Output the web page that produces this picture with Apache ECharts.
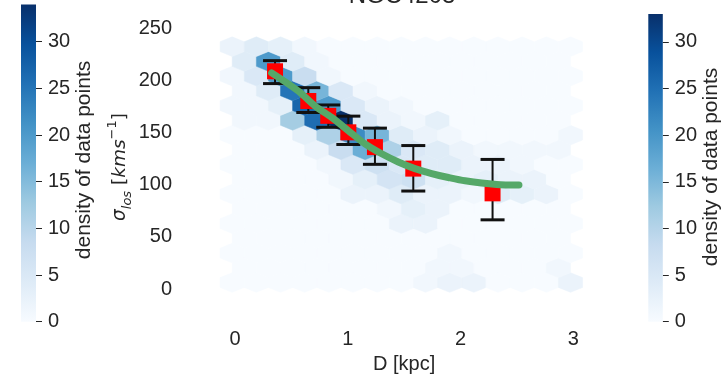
<!DOCTYPE html>
<html>
<head>
<meta charset="utf-8">
<script src="https://cdn.jsdelivr.net/npm/echarts@6/dist/echarts.min.js"></script>
<style>
  html, body { margin: 0; padding: 0; background: #ffffff; }
  #chart { width: 725px; height: 379px; }
</style>
</head>
<body>
<div id="chart"></div>
<script>
// ---- hexbin lattice (matplotlib-style hexbin, gridsize 14 x 8) ----
const HEX_XMIN = -0.025, HEX_XMAX = 2.975, HEX_NX = 14;
const HEX_YMIN = 6.3, HEX_YMAX = 232.4, HEX_NY = 8;

// number of data points per hexagon, bottom row first.
// even rows hold NX+1 cells, odd rows (shifted half a cell) hold NX cells
const hexCounts = [
  [0,0,0,0,0,0,0,0,1,2,2,0,0,0,2],
  [0,0,0,0,0,0,0,0,1,1,0,0,0,1],
  [0,0,0,0,0,0,0,0,0,1,0,0,0,0,0],
  [0,0,0,0,0,0,0,0,0,0,0,0,0,0],
  [0,0,0,0,0,0,0,2,2,0,0,0,0,0,0],
  [0,0,0,0,0,0,1,3,2,0,0,0,0,0],
  [0,0,0,0,0,2,2,4,2,2,1,4,3,2,0],
  [0,0,0,0,1,3,6,7,3,2,3,2,2,0],
  [0,0,0,0,1,5,7,5,4,4,2,2,1,0,0],
  [0,0,0,2,8,17,11,5,4,2,1,1,1,1],
  [0,0,0,3,11,22,16,4,2,1,0,0,0,0,1],
  [1,1,12,26,34,5,2,1,3,0,0,0,0,0],
  [1,1,3,27,20,5,2,1,0,0,0,0,0,0,0],
  [1,4,25,16,5,1,0,0,0,0,0,0,0,0],
  [1,5,20,8,1,0,0,0,0,0,0,0,0,0,0],
  [4,20,4,1,0,0,0,0,0,0,0,0,0,0],
  [2,4,3,1,0,0,0,0,0,0,0,0,0,0,0]
];
const countMax = 34;

// binned profile: distance, dispersion and its error-bar limits
const binD     = [0.355, 0.65, 0.827, 1.005, 1.241, 1.581, 2.284];
const binSigma = [208.8, 180.3, 166.1, 150.3, 136.1, 115.5, 91.8];
const binLow   = [197.0, 169.3, 155.1, 138.6, 119.6, 94.0, 66.4];
const binHigh  = [219.0, 193.1, 176.5, 165.8, 154.3, 137.6, 124.3];

// fitted dispersion profile
const fitD     = [0.325, 0.561, 0.709, 0.857, 1.005, 1.153, 1.301, 1.448, 1.596, 1.744, 1.892, 2.04, 2.32, 2.518];
const fitSigma = [207.3, 189.9, 175.6, 164.6, 151.9, 139.2, 129.7, 121.9, 115.5, 110.8, 107.0, 103.8, 100.3, 99.7];

const xTicks = [0, 1, 2, 3];
const yTicks = [0, 50, 100, 150, 200, 250];
const colorbarTicks = [0, 5, 10, 15, 20, 25, 30];

const BLUES = ['#f7fbff','#deebf7','#c6dbef','#9ecae1','#6baed6','#4292c6','#2171b5','#08519c','#08306b'];
const TEXT = '#262626';
const FONT = 'Liberation Sans, Arial, sans-serif';

// hex centres from the lattice definition
const SX = (HEX_XMAX - HEX_XMIN) / HEX_NX;
const SY = (HEX_YMAX - HEX_YMIN) / HEX_NY;
const hexData = [];
hexCounts.forEach((row, k) => {
  const shift = (k % 2) ? SX / 2 : 0;
  row.forEach((c, i) => {
    hexData.push([HEX_XMIN + shift + i * SX, HEX_YMIN + k * SY / 2, c]);
  });
});
const HEX_SHAPE = [[0.5,-1/6],[0.5,1/6],[0,1/3],[-0.5,1/6],[-0.5,-1/6],[0,-1/3]];

const errData = binD.map((d, i) => [d, binLow[i], binHigh[i]]);
const ptData = binD.map((d, i) => [d, binSigma[i]]);
const fitData = fitD.map((d, i) => [d, fitSigma[i]]);

const blueGradient = () => new echarts.graphic.LinearGradient(0, 1, 0, 0,
  BLUES.map((c, j) => ({ offset: j / (BLUES.length - 1), color: c })));

function colorbarAxis(gridIndex, max) {
  return {
    type: 'value', gridIndex, min: 0, max, position: 'right',
    axisLine: { show: false }, splitLine: { show: false },
    axisTick: { show: true, length: 6, customValues: colorbarTicks, lineStyle: { color: TEXT, width: 1 } },
    axisLabel: { customValues: colorbarTicks, margin: 12, color: TEXT, fontSize: 20, fontFamily: FONT }
  };
}

const chart = echarts.init(document.getElementById('chart'), null, { renderer: 'canvas' });
chart.setOption({
  backgroundColor: '#ffffff',
  animation: false,
  grid: [
    { left: 235, top: 28.3, width: 338.3, height: 263.4 },
    { left: 21, top: 4.4, width: 15, height: 317.3 },
    { left: 648.3, top: 14, width: 14.5, height: 307.7 }
  ],
  xAxis: [
    {
      type: 'value', gridIndex: 0, min: 0, max: 3, interval: 1,
      name: 'D [kpc]', nameLocation: 'middle', nameGap: 64,
      nameTextStyle: { color: TEXT, fontSize: 20, fontFamily: FONT },
      axisLine: { show: false }, axisTick: { show: false }, splitLine: { show: false },
      axisLabel: { color: TEXT, fontSize: 20, fontFamily: FONT, margin: 40 }
    },
    { type: 'category', gridIndex: 1, data: ['c'], show: false },
    { type: 'category', gridIndex: 2, data: ['c'], show: false }
  ],
  yAxis: [
    {
      type: 'value', gridIndex: 0, min: 0, max: 250, interval: 50,
      axisLine: { show: false }, axisTick: { show: false }, splitLine: { show: false },
      axisLabel: { color: TEXT, fontSize: 20, fontFamily: FONT, margin: 63 }
    },
    colorbarAxis(1, 34),
    colorbarAxis(2, 33)
  ],
  visualMap: {
    type: 'continuous', show: false, seriesIndex: 0, dimension: 2,
    min: 0, max: countMax, inRange: { color: BLUES }
  },
  graphic: [
    { type: 'text', x: 402, y: 8, style: { text: 'NGC4203', fill: TEXT, fontSize: 24, fontFamily: FONT, align: 'center', verticalAlign: 'bottom' } },
    { type: 'text', x: 120, y: 167, rotation: Math.PI / 2,
      style: {
        text: '{it|σ}{sub|los}{n| [}{it|kms}{sup|−1}{n|]}',
        align: 'center', verticalAlign: 'middle',
        rich: {
          it: { fontStyle: 'italic', fontSize: 18.5, fontFamily: 'DejaVu Sans', fill: TEXT, lineHeight: 28 },
          n: { fontSize: 18.5, fontFamily: 'DejaVu Sans', fill: TEXT, lineHeight: 28 },
          sub: { fontStyle: 'italic', fontSize: 13, fontFamily: 'DejaVu Sans', fill: TEXT, lineHeight: 28, verticalAlign: 'bottom' },
          sup: { fontSize: 13, fontFamily: 'DejaVu Sans', fill: TEXT, lineHeight: 28, verticalAlign: 'top' }
        }
      } },
    { type: 'text', x: 84, y: 160, rotation: Math.PI / 2,
      style: { text: 'density of data points', fill: TEXT, fontSize: 21, fontFamily: FONT, align: 'center', verticalAlign: 'middle' } },
    { type: 'text', x: 711, y: 167, rotation: Math.PI / 2,
      style: { text: 'density of data points', fill: TEXT, fontSize: 21, fontFamily: FONT, align: 'center', verticalAlign: 'middle' } }
  ],
  series: [
    {
      type: 'custom', xAxisIndex: 0, yAxisIndex: 0, z: 1, clip: false,
      data: hexData,
      renderItem(params, api) {
        const cx = api.value(0), cy = api.value(1);
        const pts = HEX_SHAPE.map(([dx, dy]) => api.coord([cx + dx * SX, cy + dy * SY]));
        const col = api.visual('color');
        return { type: 'polygon', shape: { points: pts }, style: { fill: col, stroke: col, lineWidth: 0.5 } };
      }
    },
    {
      type: 'custom', xAxisIndex: 0, yAxisIndex: 0, z: 2,
      data: errData,
      renderItem(params, api) {
        const lo = api.coord([api.value(0), api.value(1)]);
        const hi = api.coord([api.value(0), api.value(2)]);
        const w = 12;
        const st = { stroke: '#111111', lineWidth: 2 };
        const cap = { stroke: '#111111', lineWidth: 3 };
        return { type: 'group', children: [
          { type: 'line', shape: { x1: lo[0], y1: lo[1], x2: hi[0], y2: hi[1] }, style: st },
          { type: 'line', shape: { x1: lo[0] - w, y1: lo[1], x2: lo[0] + w, y2: lo[1] }, style: cap },
          { type: 'line', shape: { x1: hi[0] - w, y1: hi[1], x2: hi[0] + w, y2: hi[1] }, style: cap }
        ] };
      }
    },
    {
      type: 'scatter', xAxisIndex: 0, yAxisIndex: 0, z: 3,
      data: ptData, symbol: 'rect', symbolSize: 16,
      itemStyle: { color: '#ff0000', opacity: 1 }
    },
    {
      type: 'line', xAxisIndex: 0, yAxisIndex: 0, z: 4,
      data: fitData, smooth: 0.3, showSymbol: false, symbol: 'none',
      lineStyle: { color: '#55a868', width: 7, cap: 'round' }
    },
    {
      type: 'bar', xAxisIndex: 1, yAxisIndex: 1, data: [34], barWidth: '100%',
      itemStyle: { color: blueGradient() }
    },
    {
      type: 'bar', xAxisIndex: 2, yAxisIndex: 2, data: [33], barWidth: '100%',
      itemStyle: { color: blueGradient() }
    }
  ]
});
</script>
</body>
</html>
